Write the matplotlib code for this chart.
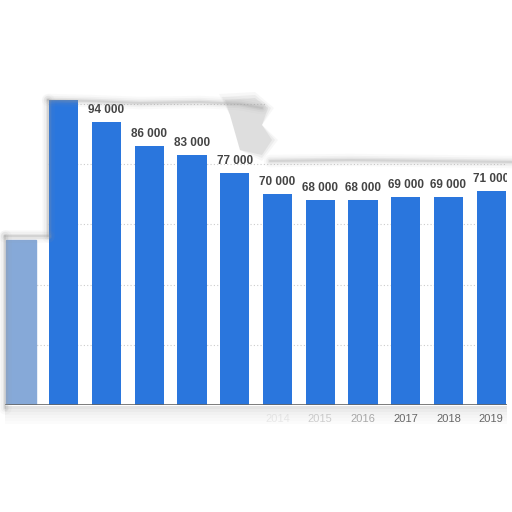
import matplotlib.pyplot as plt
from matplotlib.patches import Rectangle, Polygon

years = ['2008', '2009', '2010', '2011', '2012', '2013', '2014', '2015', '2016', '2017', '2018', '2019']
values = [55000, 104000, 94000, 86000, 83000, 77000, 70000, 68000, 68000, 69000, 69000, 71000]
value_labels = ['55 000', '104 000', '94 000', '86 000', '83 000', '77 000', '70 000',
                '68 000', '68 000', '69 000', '69 000', '71 000']
year_alpha = [0, 0, 0, 0, 0, 0, 0.12, 0.3, 0.55, 1, 1, 1]

W = H = 512
fig = plt.figure(figsize=(5.12, 5.12), dpi=100)
fig.patch.set_facecolor('white')

# axes placed so the baseline sits at 405 px from the top
ax = fig.add_axes([0, 107 / H, 1, 331 / H])
x = list(range(len(years)))
bars = ax.bar(x, values, width=0.68, color='#2a76dd', zorder=2)
bars[0].set_color('#86a9d8')
ax.set_xlim(-21 / 42.75, (W - 21) / 42.75)
ax.set_ylim(0, 110000)
ax.set_yticks([20000, 40000, 60000, 80000, 100000])
ax.grid(axis='y', linestyle=(0, (1, 2)), color='#cccccc', linewidth=0.8, zorder=0)
ax.tick_params(left=False, bottom=False, labelleft=False, labelbottom=False)
for s in ax.spines.values():
    s.set_visible(False)
ax.axhline(0, color='#666666', linewidth=1.2, zorder=3)

for xi, v, lab in zip(x, values, value_labels):
    ax.annotate(lab, (xi, v), xytext=(0, 4.5), textcoords='offset points',
                ha='center', va='bottom', fontsize=8.5, fontweight='bold',
                color='#444444', family='Liberation Sans')

# torn paper mask (pixel coords, origin top-left converted)
def px(xs, ys):
    return [(a / W, 1 - b / H) for a, b in zip(xs, ys)]

def rect(x0, y0, x1, y1, **kw):
    fig.patches.append(Rectangle((x0 / W, 1 - y1 / H), (x1 - x0) / W, (y1 - y0) / H,
                                 transform=fig.transFigure, **kw))

white = dict(facecolor='white', edgecolor='none', zorder=5)
rect(0, 0, 512, 100, **white)
rect(265, 100, 512, 160, **white)
rect(0, 100, 48, 236, **white)
rect(0, 236, 5, 412, **white)
rect(507, 160, 512, 412, **white)
rect(0, 407, 512, 512, **white)

# soft grey shadows along the torn edges
def shade(xs, ys, color='#9a9a9a'):
    for lw, a in [(9, 0.05), (6, 0.08), (3.5, 0.14), (1.5, 0.22)]:
        fig.lines.append(plt.Line2D([v / W for v in xs], [1 - v / H for v in ys],
                                    transform=fig.transFigure, color=color,
                                    linewidth=lw, alpha=a, zorder=6,
                                    solid_capstyle='round'))

# grey curl blob near the step
for grow, a in [(6, 0.08), (3, 0.12), (0, 0.18)]:
    fig.patches.append(Polygon(px([225 - grow, 255, 268 + grow, 262, 272 + grow, 262, 240, 230],
                                  [100 - grow, 98 - grow, 108, 125, 140, 155 + grow, 150, 115]),
                               closed=True, transform=fig.transFigure,
                               facecolor='#a0a0a0', edgecolor='none', alpha=a, zorder=6))

shade([48, 90, 140, 200, 240, 262], [100, 101, 103, 102, 104, 108])
shade([270, 350, 430, 512], [161, 160, 161, 162])
shade([48, 48], [100, 236])
shade([5, 48], [236, 236])
shade([5, 5], [236, 408])

# shadow strip under the baseline
for y0, a in [(406, 0.22), (409, 0.16), (412, 0.11), (415, 0.08), (418, 0.05), (421, 0.03)]:
    rect(5, y0, 507, y0 + 3, facecolor='#888888', edgecolor='none', alpha=a, zorder=6)

for xi, yr, a in zip(x, years, year_alpha):
    if a > 0:
        fig.text((21 + 42.75 * xi) / W, 1 - 419 / H, yr, ha='center', va='center',
                 fontsize=8, color='#666666', alpha=a, family='Liberation Sans', zorder=7)

fig.savefig('out.png', dpi=100, facecolor='white')
